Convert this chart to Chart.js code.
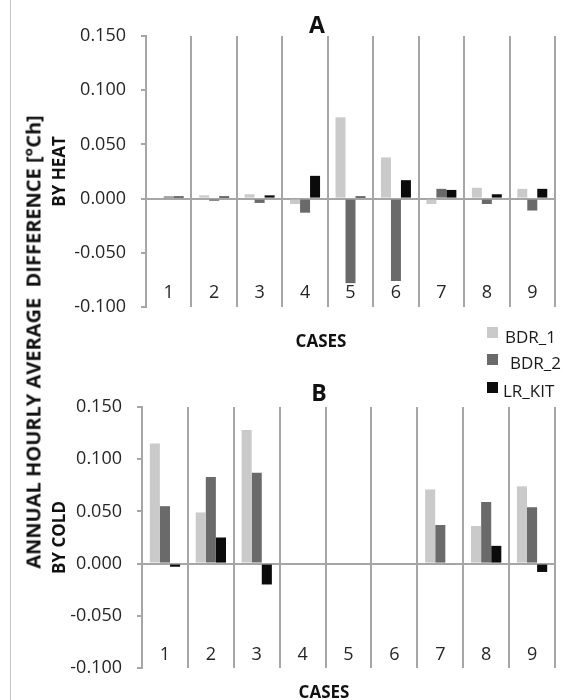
<!DOCTYPE html>
<html>
<head>
<meta charset="utf-8">
<script src="https://cdn.jsdelivr.net/npm/chart.js@4/dist/chart.umd.min.js"></script>
<style>
  html, body { margin: 0; padding: 0; background: #fff; }
  #wrap { position: relative; width: 565px; height: 700px; overflow: hidden; font-family: "Open Sans", "Noto Sans", sans-serif; }
  #leftline { position: absolute; left: 10px; top: 0; width: 1px; height: 700px; background: #c4c4c4; }
  .cv { position: absolute; left: 0; }
  .txt { position: absolute; white-space: nowrap; color: #111; }
  .bold { font-weight: bold; }
  #ylab { left: 33px; top: 342px; font-size: 20px; font-weight: bold; transform: translate(-50%, -50%) rotate(-90deg); }
  .leg { position: absolute; font-size: 17px; line-height: 20px; color: #1a1a1a; white-space: nowrap; }
  .sw { position: absolute; width: 11px; height: 11px; }
</style>
</head>
<body>
<div id="wrap">
  <div id="leftline"></div>
  <canvas id="cA" class="cv" width="565" height="320" style="top:0px;width:565px;height:320px;"></canvas>
  <canvas id="cB" class="cv" width="565" height="370" style="top:330px;width:565px;height:370px;"></canvas>
  <div class="txt bold" style="left:317px;top:24px;font-size:23px;transform:translate(-50%,-50%);">A</div>
  <div class="txt bold" style="left:319px;top:392px;font-size:23px;transform:translate(-50%,-50%);">B</div>
  <div class="txt bold" style="left:321px;top:340px;font-size:17px;transform:translate(-50%,-50%);">CASES</div>
  <div class="txt bold" style="left:324px;top:691px;font-size:17px;transform:translate(-50%,-50%);">CASES</div>
  <div id="ylab" class="txt">ANNUAL HOURLY AVERAGE&nbsp;&nbsp;DIFFERENCE [°Ch]</div>
  <div id="legend"></div>
</div>
<script>
const categories = ["1", "2", "3", "4", "5", "6", "7", "8", "9"];
const seriesNames = ["BDR_1", "BDR_2", "LR_KIT"];
const seriesColors = ["#cacaca", "#6a6a6a", "#0b0b0b"];
// Chart A: by heat
const heatBDR1 = [-0.001, 0.003, 0.004, -0.005, 0.075, 0.038, -0.005, 0.010, 0.009];
const heatBDR2 = [0.002, -0.002, -0.004, -0.013, -0.078, -0.076, 0.009, -0.005, -0.011];
const heatLRKIT = [0.002, 0.002, 0.003, 0.021, 0.002, 0.017, 0.008, 0.004, 0.009];
// Chart B: by cold
const coldBDR1 = [0.115, 0.049, 0.128, null, null, null, 0.071, 0.036, 0.074];
const coldBDR2 = [0.055, 0.083, 0.087, null, null, null, 0.037, 0.059, 0.054];
const coldLRKIT = [-0.003, 0.025, -0.020, null, null, null, -0.001, 0.017, -0.008];
const yTicks = [-0.100, -0.050, 0.000, 0.050, 0.100, 0.150];

const GRID = "#a6a6a6";
const FONT = "'Open Sans', 'Noto Sans', sans-serif";

function makeChart(id, data, yTitle, yWidth, pad, labelPad) {
  const sets = [data[0], data[1], data[2]].map((d, i) => ({
    label: seriesNames[i],
    data: d,
    backgroundColor: seriesColors[i],
    borderWidth: 0,
    categoryPercentage: 0.66,
    barPercentage: 1.0
  }));
  return new Chart(document.getElementById(id), {
    type: "bar",
    data: { labels: categories, datasets: sets },
    options: {
      responsive: false,
      animation: false,
      layout: { padding: pad },
      plugins: { legend: { display: false }, tooltip: { enabled: false }, title: { display: false } },
      scales: {
        x: {
          grid: { offset: true, drawTicks: false, color: GRID, lineWidth: 2 },
          border: { display: false },
          ticks: { mirror: true, padding: labelPad, autoSkip: false, maxRotation: 0, color: "#262626", font: { family: FONT, size: 18 } },
          afterFit: s => { s.height = 0; s.paddingLeft = 0; s.paddingRight = 0; }
        },
        y: {
          min: yTicks[0],
          max: yTicks[yTicks.length - 1],
          afterBuildTicks: s => { s.ticks = yTicks.map(v => ({ value: v })); },
          ticks: {
            padding: 15,
            color: "#262626",
            font: { family: FONT, size: 18 },
            callback: v => Number(v).toFixed(3)
          },
          grid: {
            drawTicks: true,
            tickLength: 5,
            tickColor: GRID,
            lineWidth: 2,
            color: c => (c.tick && Math.abs(c.tick.value) < 1e-9) ? GRID : "rgba(0,0,0,0)"
          },
          border: { display: true, color: GRID, width: 2 },
          title: { display: true, text: yTitle, color: "#111", padding: 0, font: { family: FONT, size: 17, weight: "bold", lineHeight: 1.2 } },
          afterFit: s => { s.width = yWidth; s.paddingTop = 0; s.paddingBottom = 0; }
        }
      }
    }
  });
}

makeChart("cA", [heatBDR1, heatBDR2, heatLRKIT], "BY HEAT", 96, { left: 50, right: 10, top: 36, bottom: 13 }, 3);
makeChart("cB", [coldBDR1, coldBDR2, coldLRKIT], "BY COLD", 92, { left: 50, right: 10, top: 77, bottom: 32 }, 2);

// Legend
const legendPos = [
  { sx: 487, sy: 327, tx: 505, ty: 327 },
  { sx: 487, sy: 354, tx: 510, ty: 353 },
  { sx: 487, sy: 382, tx: 503, ty: 381 }
];
const leg = document.getElementById("legend");
seriesNames.forEach((n, i) => {
  const sw = document.createElement("div");
  sw.className = "sw";
  sw.style.left = legendPos[i].sx + "px";
  sw.style.top = legendPos[i].sy + "px";
  sw.style.background = seriesColors[i];
  leg.appendChild(sw);
  const t = document.createElement("div");
  t.className = "leg";
  t.style.left = legendPos[i].tx + "px";
  t.style.top = legendPos[i].ty + "px";
  t.textContent = n;
  leg.appendChild(t);
});
</script>
</body>
</html>
